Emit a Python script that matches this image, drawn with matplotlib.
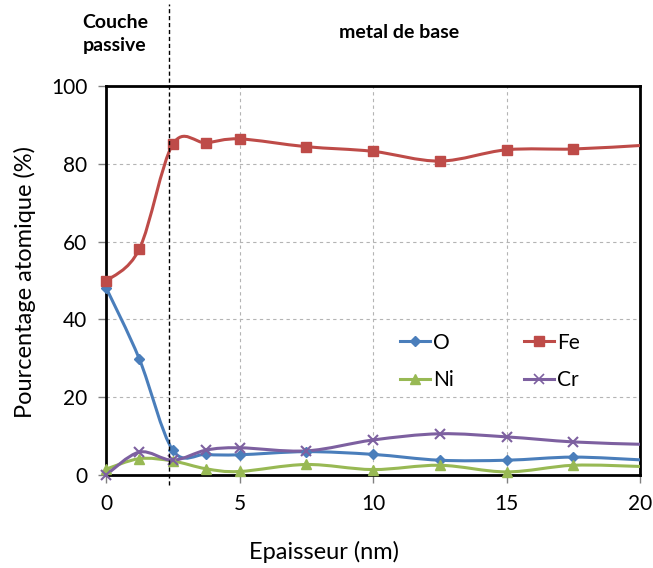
import matplotlib
matplotlib.use("Agg")
import matplotlib.pyplot as plt
from matplotlib.path import Path
from matplotlib.patches import PathPatch
from matplotlib.lines import Line2D
import numpy as np

plt.rcParams['font.family'] = ['Lato', 'DejaVu Sans']

# Data
thickness = [0, 1.25, 2.5, 3.75, 5, 7.5, 10, 12.5, 15, 17.5, 20]
O_vals  = [48.2, 29.8, 6.4, 5.3, 5.2, 6.0, 5.3, 3.8, 3.8, 4.6, 3.9]
Fe_vals = [49.8, 58.1, 85.0, 85.4, 86.4, 84.4, 83.2, 80.7, 83.6, 83.8, 84.7]
Ni_vals = [1.5, 4.2, 3.6, 1.6, 0.9, 2.7, 1.4, 2.5, 0.8, 2.5, 2.2]
Cr_vals = [0.0, 5.9, 3.8, 6.4, 7.0, 6.2, 9.0, 10.6, 9.8, 8.5, 7.9]
series_names = ['O', 'Fe', 'Ni', 'Cr']
x_ticks = [0, 5, 10, 15, 20]
y_ticks = [0, 20, 40, 60, 80, 100]
boundary_x = 2.35

colors = {'O': '#4A7EBB', 'Fe': '#BE4B48', 'Ni': '#98B954', 'Cr': '#7D60A0'}
markers = {'O': 'D', 'Fe': 's', 'Ni': '^', 'Cr': 'x'}
msizes = {'O': 5.5, 'Fe': 7.5, 'Ni': 7, 'Cr': 7}

fig = plt.figure(figsize=(6.53, 5.68), dpi=100)
ax = fig.add_axes([106/653, 93/568, 534/653, 389/568])


def smooth_path(x, y):
    pts = np.column_stack([x, y]).astype(float)
    n = len(pts)
    verts = [pts[0]]
    codes = [Path.MOVETO]
    for i in range(n - 1):
        p0 = pts[i - 1] if i > 0 else pts[i]
        p1 = pts[i]
        p2 = pts[i + 1]
        p3 = pts[i + 2] if i + 2 < n else pts[i + 1]
        c1 = p1 + (p2 - p0) / 6.0
        c2 = p2 - (p3 - p1) / 6.0
        verts += [c1, c2, p2]
        codes += [Path.CURVE4] * 3
    return Path(verts, codes)


data = {'O': O_vals, 'Fe': Fe_vals, 'Ni': Ni_vals, 'Cr': Cr_vals}
handles = {}
for name in series_names:
    vals = data[name]
    c = colors[name]
    patch = PathPatch(smooth_path(thickness, vals), fill=False, edgecolor=c,
                      lw=2.2, zorder=3)
    ax.add_patch(patch)
    ax.plot(thickness[:-1], vals[:-1], linestyle='none', marker=markers[name],
            ms=msizes[name], color=c, mec=c, mew=1.5 if name == 'Cr' else 1,
            zorder=4, clip_on=False)
    handles[name] = Line2D([], [], color=c, lw=2.2, marker=markers[name],
                           ms=msizes[name], mew=1.2 if name == 'Cr' else 1)

ax.set_xlim(0, 20)
ax.set_ylim(0, 100)
ax.set_xticks(x_ticks)
ax.set_yticks(y_ticks)
ax.tick_params(labelsize=15, length=5.5, width=1, color='#808080',
               direction='out', pad=8)
ax.grid(True, color='#b4b4b4', linestyle=(0, (3, 3)), lw=0.8)
ax.set_axisbelow(True)
for sp in ax.spines.values():
    sp.set_linewidth(2)
    sp.set_color('black')

ax.set_xlabel('Epaisseur (nm)', fontsize=17)
ax.xaxis.label.set_va('baseline')
ax.xaxis.set_label_coords((324 - 106) / 534, (475 - 559) / 389)
ax.set_ylabel('Pourcentage atomique (%)', fontsize=17)
ax.yaxis.label.set_va('center')
ax.yaxis.set_label_coords((25 - 106) / 534, 0.495)

ax.axvline(boundary_x, ymin=-0.026, ymax=1.21, color='black', lw=1,
           linestyle=(0, (3, 2)), clip_on=False, zorder=5)

fig.text(115/653, 1 - 28/568, 'Couche', ha='center', va='baseline',
         fontsize=14, fontweight='bold')
fig.text(115/653, 1 - 51/568, 'passive', ha='center', va='baseline',
         fontsize=14, fontweight='bold')
fig.text(399/653, 1 - 38/568, 'metal de base', ha='center', va='baseline',
         fontsize=14, fontweight='bold')

leg = ax.legend([handles['O'], handles['Ni'], handles['Fe'], handles['Cr']],
                ['O', 'Ni', 'Fe', 'Cr'], ncol=2, frameon=False, fontsize=15,
                loc='center', bbox_to_anchor=(0.719, 0.292), handlelength=1.4,
                handletextpad=0.15, columnspacing=3.4, labelspacing=0.85,
                borderaxespad=0, borderpad=0)

fig.savefig('out.png', dpi=100)
